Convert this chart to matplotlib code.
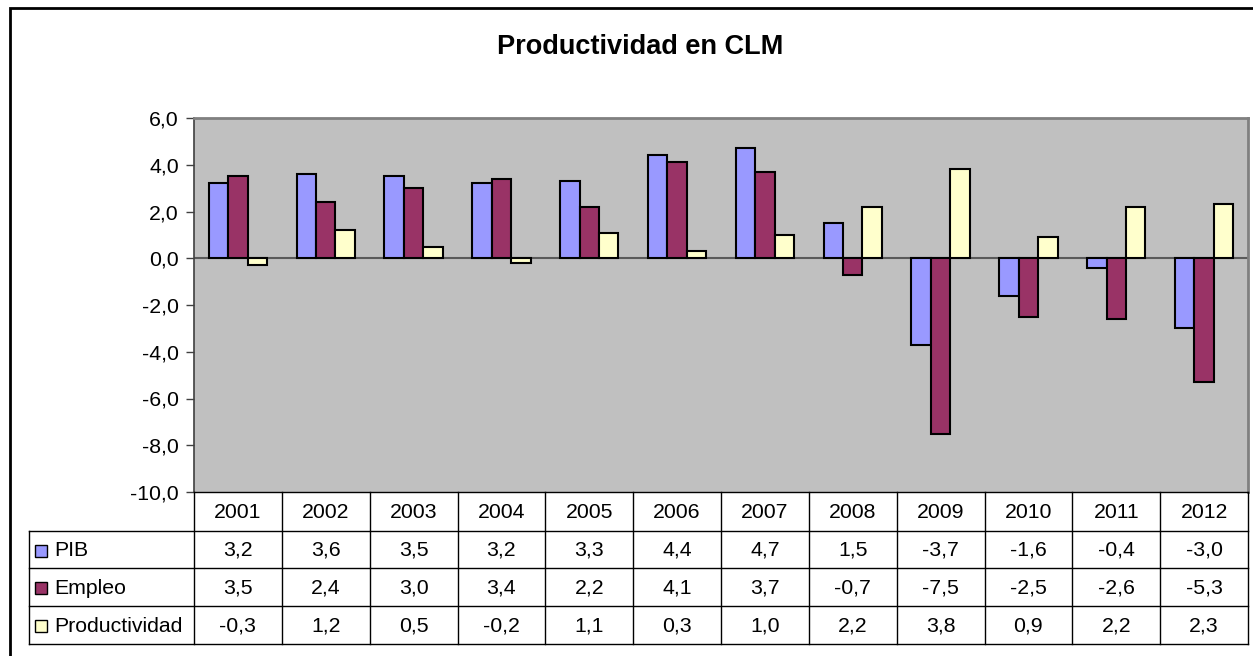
import matplotlib
matplotlib.use("Agg")
import matplotlib.pyplot as plt
from matplotlib.patches import Rectangle
from matplotlib.lines import Line2D
import numpy as np

years = ["2001", "2002", "2003", "2004", "2005", "2006", "2007", "2008", "2009", "2010", "2011", "2012"]
pib = [3.2, 3.6, 3.5, 3.2, 3.3, 4.4, 4.7, 1.5, -3.7, -1.6, -0.4, -3.0]
empleo = [3.5, 2.4, 3.0, 3.4, 2.2, 4.1, 3.7, -0.7, -7.5, -2.5, -2.6, -5.3]
productividad = [-0.3, 1.2, 0.5, -0.2, 1.1, 0.3, 1.0, 2.2, 3.8, 0.9, 2.2, 2.3]
series_names = ["PIB", "Empleo", "Productividad"]
series_colors = ["#9999FF", "#993366", "#FFFFCC"]
yticks = [6.0, 4.0, 2.0, 0.0, -2.0, -4.0, -6.0, -8.0, -10.0]

plt.rcParams['font.family'] = ['Liberation Sans', 'DejaVu Sans']
W, H = 1253, 656
fig = plt.figure(figsize=(W / 100, H / 100), dpi=100)
FS = 15.3


def fx(px):
    return px / W


def fy(py):
    return 1 - py / H


def box(x0, y0, x1, y1):
    return [fx(x0), fy(y1), fx(x1) - fx(x0), fy(y0) - fy(y1)]


# outer chart border
fig.patches.append(Rectangle((fx(10), fy(662)), fx(1262) - fx(10), fy(8) - fy(662),
                             transform=fig.transFigure, fill=False, edgecolor="black", linewidth=2.0))

fig.text(fx(640), fy(47), "Productividad en CLM", ha="center", va="center",
         fontsize=19.5, fontweight="bold")

# plot area
PL, PR, PT, PB = 194, 1248, 118, 492
ax = fig.add_axes(box(PL, PT, PR, PB))
ax.set_facecolor("#C0C0C0")
n = len(years)
x = np.arange(n)
bw = 0.222
data = [pib, empleo, productividad]
for i, (vals, col) in enumerate(zip(data, series_colors)):
    ax.bar(x + (i - 1) * bw, vals, width=bw, color=col, edgecolor="black", linewidth=1.5, zorder=3)
ax.axhline(0, color="#5a5a5a", linewidth=1.5, zorder=2)
ax.set_xlim(-0.5, n - 0.5)
ax.set_ylim(-10, 6)
ax.set_yticks(yticks)
ax.set_yticklabels([f"{v:.1f}".replace(".", ",") for v in yticks], fontsize=FS)
ax.tick_params(axis="y", length=6, width=1, color="#404040", pad=5)
ax.set_xticks([])
for s in ["top", "right"]:
    ax.spines[s].set_color("#808080")
    ax.spines[s].set_linewidth(2)
ax.spines["left"].set_color("#404040")
ax.spines["left"].set_linewidth(1.2)
ax.spines["bottom"].set_visible(False)

# data table
cw = (PR - PL) / n
rows = [492, 531, 568, 606, 644]
TL = 29
lc = "black"
lw = 1.0


def hline(y, x0, x1):
    fig.add_artist(Line2D([fx(x0), fx(x1)], [fy(y), fy(y)], transform=fig.transFigure, color=lc, linewidth=lw))


def vline(xp, y0, y1):
    fig.add_artist(Line2D([fx(xp), fx(xp)], [fy(y0), fy(y1)], transform=fig.transFigure, color=lc, linewidth=lw))


hline(rows[0], PL, PR)
for r in rows[1:]:
    hline(r, TL, PR)
vline(TL, rows[1], rows[4])
for j in range(n + 1):
    vline(PL + j * cw, rows[0], rows[4])

for j, yr in enumerate(years):
    fig.text(fx(PL + (j + 0.5) * cw), fy((rows[0] + rows[1]) / 2 + 1), yr, ha="center", va="center", fontsize=FS)

for i, (name, vals, col) in enumerate(zip(series_names, data, series_colors)):
    yc = (rows[i + 1] + rows[i + 2]) / 2 + 1
    fig.patches.append(Rectangle((fx(35), fy(yc + 6)), fx(47) - fx(35), fy(yc - 6) - fy(yc + 6),
                                 transform=fig.transFigure, facecolor=col, edgecolor="black", linewidth=1.0))
    fig.text(fx(54), fy(yc), name, ha="left", va="center", fontsize=FS)
    for j, v in enumerate(vals):
        fig.text(fx(PL + (j + 0.5) * cw), fy(yc), f"{v:.1f}".replace(".", ","), ha="center", va="center", fontsize=FS)

fig.savefig("out.png", dpi=100, facecolor="white")
